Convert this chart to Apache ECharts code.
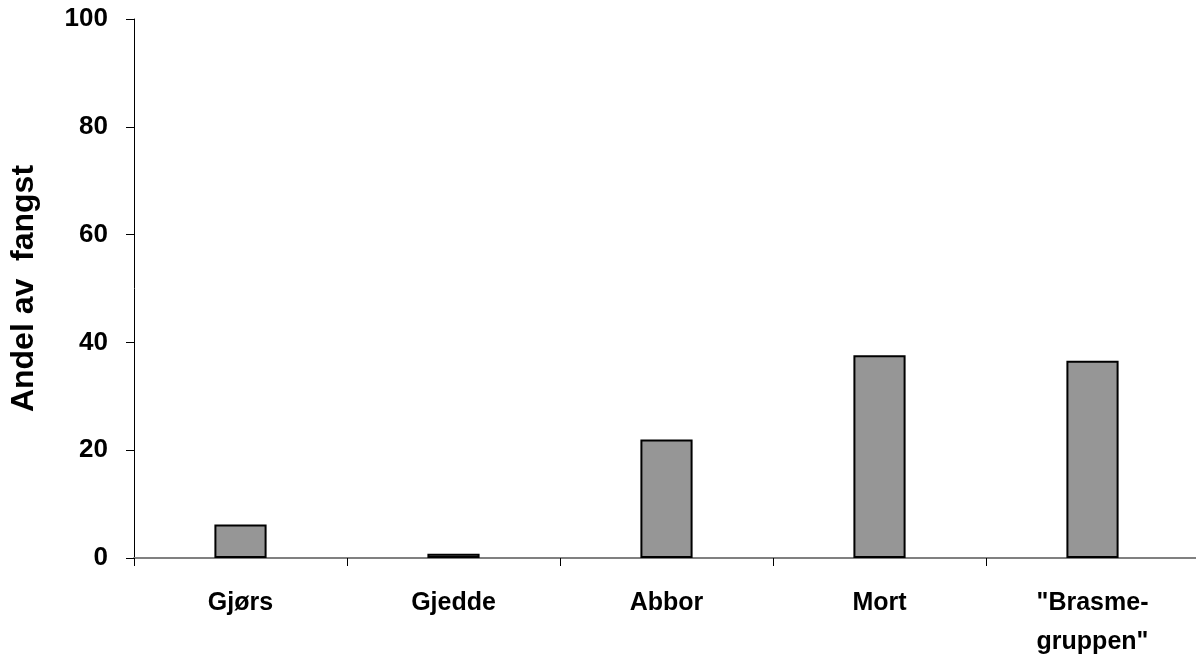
<!DOCTYPE html>
<html>
<head>
<meta charset="utf-8">
<script src="https://cdn.jsdelivr.net/npm/echarts@6/dist/echarts.min.js"></script>
<style>
  html, body { margin: 0; padding: 0; background: #fff; }
  #chart { width: 1196px; height: 657px; }
</style>
</head>
<body>
<div id="chart"></div>
<script>
// arter og andel av fangst (%)
const categories = ['Gjørs', 'Gjedde', 'Abbor', 'Mort', '"Brasme-\ngruppen"'];
const andel = [6.2, 0.8, 22.0, 37.6, 36.6];
const yTicks = [0, 20, 40, 60, 80, 100];

const chart = echarts.init(document.getElementById('chart'));

const font = 'Liberation Sans, Arial, sans-serif';

const option = {
    animation: false,
    grid: {
        left: 134,
        right: -3,
        top: 19,
        bottom: 99,
        containLabel: false,
        outerBoundsMode: 'none'
    },
    xAxis: {
        type: 'category',
        data: categories,
        axisLine: { lineStyle: { color: '#808080', width: 2 } },
        axisTick: { show: true, length: 8, lineStyle: { color: '#000', width: 1 } },
        axisLabel: {
            color: '#000',
            fontFamily: font,
            fontWeight: 'bold',
            fontSize: 25,
            margin: 26,
            lineHeight: 39
        }
    },
    yAxis: {
        type: 'value',
        min: yTicks[0],
        max: yTicks[yTicks.length - 1],
        interval: 20,
        name: 'Andel av  fangst',
        nameLocation: 'middle',
        nameGap: 94,
        nameTextStyle: {
            color: '#000',
            fontFamily: font,
            fontWeight: 'bold',
            fontSize: 32
        },
        splitLine: { show: false },
        axisLine: { show: true, lineStyle: { color: '#000', width: 1 } },
        axisTick: { show: true, inside: false, length: 8, lineStyle: { color: '#000' } },
        axisLabel: {
            color: '#000',
            fontFamily: font,
            fontWeight: 'bold',
            fontSize: 26,
            margin: 26
        }
    },
    series: [{
        type: 'bar',
        data: andel,
        barWidth: '24.5%',
        itemStyle: {
            color: '#969696',
            borderColor: '#000',
            borderWidth: 2
        }
    }]
};

chart.setOption(option);
</script>
</body>
</html>
